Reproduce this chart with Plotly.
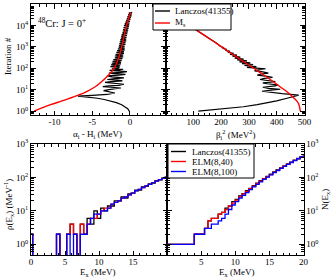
import plotly.graph_objects as go

W, H = 332, 277
FONT = "Liberation Serif"

# ---------------- top panels: Lanczos iteration data ----------------
it_ms = [1, 2, 3, 5, 8, 13, 23, 50, 100, 300, 1000, 3000, 10000, 41355]
alpha_ms = [-12.7, -10.5, -9.0, -7.2, -5.8, -4.7, -3.8, -2.8, -2.1, -1.5, -1.1, -0.8, -0.45, 0.1]
beta2_ms = [485, 480, 472, 455, 437, 415, 389, 352, 317, 262, 202, 147, 87, 16]

it_alpha_lz = [1, 1.3, 1.6, 2, 2.5, 3, 3.5, 4, 4.5, 5, 5.5, 6, 7, 8, 9, 10, 11, 12, 13, 14,
               15, 16, 18, 20, 22, 24, 26, 28, 30, 33, 36, 40, 44, 48, 52, 56, 60, 65, 70, 75,
               80, 85, 90, 95, 100,
               110, 120, 130, 145, 160, 175, 190, 210, 230, 255, 280, 310, 340, 375, 410, 450,
               500, 550, 600, 660, 730, 800, 880, 970, 1070, 1180, 1300, 1430, 1570, 1730, 1900,
               2100, 2300, 2550, 2800, 3100, 3400, 3750, 4100, 4500, 5000, 5500, 6000, 6600, 7300,
               8000, 8800, 9700, 10700, 11800, 13000, 14300, 15700, 17300, 19000, 21000, 23000,
               25500, 28000, 31000, 34000, 37500, 41355]
alpha_lz = [-0.1, -0.3, -0.7, -1.1, -1.8, -2.6, -3.4, -4.3, -5.4, -6.9, -5.0, -3.0, -2.0, -2.6, -3.5, -2.8, -1.5, -1.2, -2.5, -3.6,
            -2.8, -1.5, -0.8, -2.2, -3.3, -2.5, -1.0, -1.6, -3.0, -2.0, -0.8, -2.4, -3.0, -1.5, -0.6, -2.0, -2.8, -1.2, -0.4, -1.8,
            -2.7, -1.4, -0.9, -2.4, -1.6,
            -1.4, -2.6, -1.3, -2.5, -1.2, -2.4, -1.2, -2.3, -1.1, -2.2, -1.0, -2.0, -0.9, -2.0, -0.9, -1.9,
            -0.8, -1.8, -0.8, -1.7, -0.7, -1.6, -0.7, -1.5, -0.7, -1.45, -0.6, -1.4, -0.6, -1.35, -0.5,
            -1.3, -0.5, -1.2, -0.45, -1.15, -0.4, -1.1, -0.35, -1.0, -0.3, -0.95, -0.25, -0.9, -0.2,
            -0.85, -0.15, -0.8, -0.1, -0.7, -0.05, -0.6, 0.0, -0.5, 0.05, -0.4, 0.1,
            -0.35, 0.2, -0.25, 0.25, -0.15, 0.3]

it_beta_lz = [1, 1.3, 1.6, 2, 2.5, 3, 4, 5, 5.6, 6.5, 7.5, 8.5, 9.5, 10.5, 11.5, 13, 15, 17, 19, 21,
              24, 27, 30, 34, 38, 43, 48, 54, 60, 68, 76, 85, 95,
              100, 110, 120, 135, 150, 165, 180, 200, 220, 245, 270, 300, 330, 370, 410, 450,
              500, 560, 620, 690, 760, 840, 930, 1030, 1500, 2000, 3000, 5000, 8000, 12000,
              20000, 30000, 41355]
beta2_lz = [118, 210, 280, 330, 375, 400, 437, 465, 479, 420, 370, 347, 380, 413, 370, 350, 395, 405, 365, 350,
            395, 370, 340, 355, 385, 360, 330, 345, 370, 350, 320, 335, 360,
            337, 293, 327, 284, 315, 275, 305, 266, 293, 258, 281, 249, 269, 241, 257, 232,
            245, 224, 232, 216, 220, 207, 209, 198, 183, 167, 148, 121, 97, 76,
            52, 32, 16]

# ---------------- bottom panels: level density (0.5 MeV bins) ----------------
bin_width = 0.5
ex_centers = [0.0, 0.5, 1.0, 1.5, 2.0, 2.5, 3.0, 3.5, 4.0, 4.5, 5.0, 5.5, 6.0, 6.5, 7.0, 7.5, 8.0,
              8.5, 9.0, 9.5, 10.0, 10.5, 11.0, 11.5, 12.0, 12.5, 13.0, 13.5, 14.0, 14.5, 15.0,
              15.5, 16.0, 16.5, 17.0, 17.5, 18.0, 18.5, 19.0, 19.5, 20.0]
counts_lanczos = [1, 0, 0, 0, 0, 0, 0, 0, 1, 0, 0, 1, 2, 1, 0, 2, 1,
                  3, 2, 5, 3, 6, 5, 7, 7, 10, 10, 13, 12, 16, 17, 21, 21, 26, 27, 32, 34, 40, 42, 48, 50]
counts_elm40 = [1, 0, 0, 0, 0, 0, 0, 0, 1, 0, 0, 1, 2, 1, 0, 2, 1,
                2, 3, 3, 4, 5, 6, 6, 8, 9, 10, 12, 13, 15, 17, 20, 22, 25, 28, 31, 35, 39, 43, 47, 51]
counts_elm100 = [1, 0, 0, 0, 0, 0, 0, 0, 1, 0, 0, 1, 0, 1, 0, 1, 1,
                 2, 3, 4, 4, 5, 5, 6, 8, 9, 10, 12, 13, 15, 17, 20, 22, 25, 28, 31, 35, 39, 43, 47, 51]

names_bottom = ["Lanczos(41355)", "ELM(8,40)", "ELM(8,100)"]
colors_bottom = ["#000000", "#ff0000", "#0000ff"]

FLOOR = 1e-2  # empty bins drawn below the visible range


def density(c):
    return [v / bin_width if v > 0 else FLOOR for v in c]


def cumulative(c):
    out, s = [], 0
    for v in c:
        s += v
        out.append(s)
    return out


fig = go.Figure()

# top-left
fig.add_trace(go.Scatter(x=alpha_lz, y=it_alpha_lz, mode="lines", line=dict(color="black", width=1.2),
                         xaxis="x", yaxis="y", showlegend=False, name="Lanczos(41355)"))
fig.add_trace(go.Scatter(x=alpha_ms, y=it_ms, mode="lines", line=dict(color="#ff0000", width=1.4, shape="spline"),
                         xaxis="x", yaxis="y", showlegend=False, name="Ms"))
# top-right
fig.add_trace(go.Scatter(x=beta2_lz, y=it_beta_lz, mode="lines", line=dict(color="black", width=1.2),
                         xaxis="x2", yaxis="y2", showlegend=False, name="Lanczos(41355)"))
fig.add_trace(go.Scatter(x=beta2_ms, y=it_ms, mode="lines", line=dict(color="#ff0000", width=1.4, shape="spline"),
                         xaxis="x2", yaxis="y2", showlegend=False, name="Ms"))

# bottom
for cnt, nm, col in zip([counts_lanczos, counts_elm40, counts_elm100], names_bottom, colors_bottom):
    fig.add_trace(go.Scatter(x=ex_centers, y=density(cnt), mode="lines",
                             line=dict(color=col, width=1.3, shape="hvh"),
                             xaxis="x3", yaxis="y3", showlegend=False, name=nm))
for cnt, nm, col in zip([counts_lanczos, counts_elm40, counts_elm100], names_bottom, colors_bottom):
    fig.add_trace(go.Scatter(x=ex_centers, y=cumulative(cnt), mode="lines",
                             line=dict(color=col, width=1.3, shape="hv"),
                             xaxis="x4", yaxis="y4", showlegend=False, name=nm))


def X(px):
    return px / W


def Y(py):
    return 1 - py / H


def logminor(lo, hi):
    vals = []
    for e in range(-1, 6):
        for k in range(2, 10):
            v = k * 10 ** e
            if lo < v < hi:
                vals.append(v)
    return vals


tick_font = dict(family=FONT, size=9, color="black")
base = dict(showline=True, linecolor="black", linewidth=1, mirror="allticks", ticks="inside",
            ticklen=4.5, tickwidth=1, tickcolor="black", showgrid=False, zeroline=False,
            tickfont=tick_font, automargin=False, fixedrange=True)
xbase = dict(base, ticklabelstandoff=-2)

top_dom = [Y(115), Y(4)]
bot_dom = [Y(255), Y(144)]
pow_vals_top = [1, 10, 100, 1000, 10000, 100000]
pow_text_top = ["10<sup>%d</sup>" % k for k in range(6)]
pow_vals_bot = [1, 10, 100, 1000]
pow_text_bot = ["10<sup>%d</sup>" % k for k in range(4)]

layout = dict(
    width=W, height=H, margin=dict(l=0, r=0, t=0, b=0),
    paper_bgcolor="white", plot_bgcolor="white", showlegend=False,
    font=dict(family=FONT, size=9, color="black"),
    xaxis=dict(xbase, domain=[X(31), X(165.5)], anchor="y", range=[-13.1, 4.7],
               tickmode="array", tickvals=[-10, -5, 0], ticktext=["-10", "-5", "0"],
               minor=dict(ticks="inside", ticklen=2.5, tickcolor="black", tick0=0, dtick=1)),
    yaxis=dict(base, domain=top_dom, anchor="x", type="log", range=[-0.18, 5.0],
               tickmode="array", tickvals=pow_vals_top, ticktext=pow_text_top,
               minor=dict(ticks="inside", ticklen=2.5, tickcolor="black", tickmode="array",
                          tickvals=logminor(0.6, 100000))),
    xaxis2=dict(xbase, domain=[X(165.5), X(304.5)], anchor="y2", range=[0, 500],
                tickmode="array", tickvals=[0, 100, 200, 300, 400, 500],
                ticktext=["", "100", "200", "300", "400", "500"],
                minor=dict(ticks="inside", ticklen=2.5, tickcolor="black", tick0=0, dtick=20)),
    yaxis2=dict(base, domain=top_dom, anchor="x2", type="log", range=[-0.18, 5.0],
                tickmode="array", tickvals=pow_vals_top, showticklabels=False,
                minor=dict(ticks="inside", ticklen=2.5, tickcolor="black", tickmode="array",
                           tickvals=logminor(0.6, 100000))),
    xaxis3=dict(xbase, domain=[X(31), X(167)], anchor="y3", range=[0, 20],
                tickmode="array", tickvals=[0, 5, 10, 15, 20], ticktext=["0", "5", "10", "15", ""],
                minor=dict(ticks="inside", ticklen=2.5, tickcolor="black", tick0=0, dtick=1)),
    yaxis3=dict(base, domain=bot_dom, anchor="x3", type="log", range=[-0.32, 3.0],
                tickmode="array", tickvals=pow_vals_bot, ticktext=pow_text_bot,
                minor=dict(ticks="inside", ticklen=2.5, tickcolor="black", tickmode="array",
                           tickvals=logminor(0.45, 1000))),
    xaxis4=dict(xbase, domain=[X(167), X(303.5)], anchor="y4", range=[0, 20],
                tickmode="array", tickvals=[0, 5, 10, 15, 20], ticktext=["", "5", "10", "15", "20"],
                minor=dict(ticks="inside", ticklen=2.5, tickcolor="black", tick0=0, dtick=1)),
    yaxis4=dict(base, domain=bot_dom, anchor="x4", type="log", range=[-0.32, 3.0], side="right",
                tickmode="array", tickvals=pow_vals_bot, ticktext=pow_text_bot,
                minor=dict(ticks="inside", ticklen=2.5, tickcolor="black", tickmode="array",
                           tickvals=logminor(0.45, 1000))),
)
fig.update_layout(**layout)

ann = []


def text(px, py, s, size=9, angle=0, xanchor="center"):
    ann.append(dict(x=X(px), y=Y(py), xref="paper", yref="paper", text=s, showarrow=False,
                    xanchor=xanchor, yanchor="middle", textangle=angle,
                    font=dict(family=FONT, size=size, color="black")))


# axis titles
text(8, 56, "Iteration #", angle=-90)
text(97, 134, "α<sub>i</sub> - H<sub>i</sub> (MeV)")
text(235, 134, "β<sub>i</sub><sup>2</sup> (MeV<sup>2</sup>)")
text(8, 205, "ρ(E<sub>x</sub>) (MeV<sup>-1</sup>)", angle=-90)
text(97, 272.5, "E<sub>x</sub> (MeV)")
text(236, 272.5, "E<sub>x</sub> (MeV)")
text(325, 200, "N(E<sub>x</sub>)", angle=-90)
text(36, 23, "<sup>48</sup>Cr: J = 0<sup>+</sup>", size=10.5, xanchor="left")

shapes = []
# top legend
shapes.append(dict(type="rect", xref="paper", yref="paper", x0=X(153), x1=X(231), y0=Y(30), y1=Y(4),
                   line=dict(color="black", width=1), fillcolor="white", layer="above"))
for py, col, s in [(11, "#000000", "Lanczos(41355)"), (23, "#ff0000", "M<sub>s</sub>")]:
    shapes.append(dict(type="line", xref="paper", yref="paper", x0=X(155), x1=X(170), y0=Y(py), y1=Y(py),
                       line=dict(color=col, width=1.4), layer="above"))
    text(173, py, s, xanchor="left")
# bottom legend
shapes.append(dict(type="rect", xref="paper", yref="paper", x0=X(168), x1=X(254), y0=Y(178), y1=Y(144),
                   line=dict(color="black", width=1), fillcolor="white", layer="above"))
for py, col, s in zip([151.5, 161.5, 171.5], colors_bottom, names_bottom):
    shapes.append(dict(type="line", xref="paper", yref="paper", x0=X(171), x1=X(186), y0=Y(py), y1=Y(py),
                       line=dict(color=col, width=1.4), layer="above"))
    text(190, py, s, xanchor="left")

fig.update_layout(annotations=ann, shapes=shapes)
fig.write_html("out.html", config={"displayModeBar": False},
               post_script="document.body.style.margin='0';document.body.style.overflow='hidden';")
